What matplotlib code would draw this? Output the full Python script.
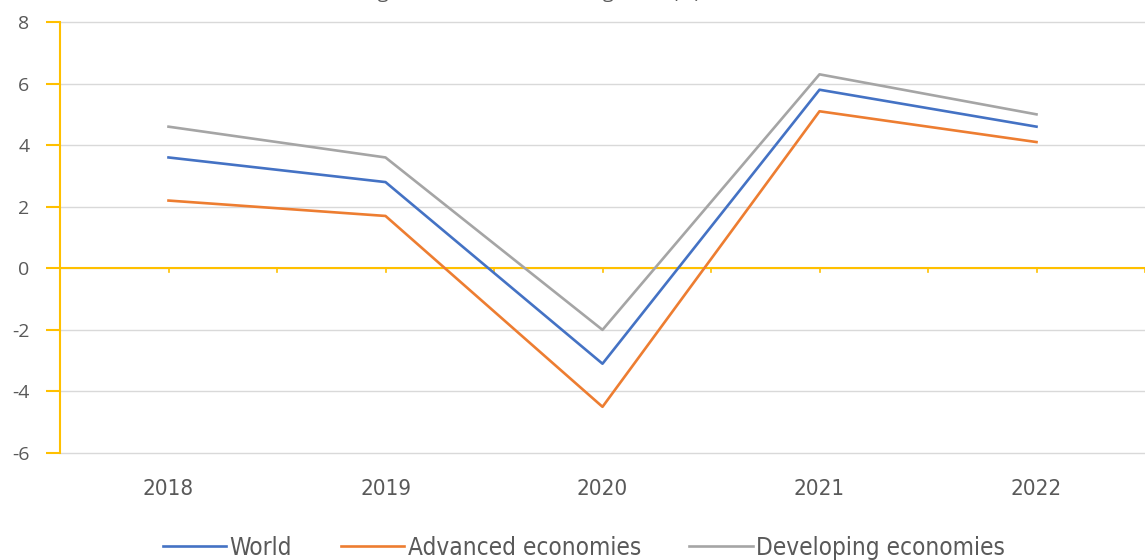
import matplotlib.pyplot as plt
from matplotlib.ticker import MultipleLocator
from matplotlib import font_manager

plt.rcParams["axes.unicode_minus"] = False

years = ["2018", "2019", "2020", "2021", "2022"]
world = [3.6, 2.8, -3.1, 5.8, 4.6]
advanced = [2.2, 1.7, -4.5, 5.1, 4.1]
developing = [4.6, 3.6, -2.0, 6.3, 5.0]

yellow = "#FFC000"
txt = "#595959"

narrow = font_manager.FontProperties(family="DejaVu Sans", stretch="condensed")

fig = plt.figure(figsize=(11.45, 5.6), dpi=100)
ax = fig.add_axes([60 / 1145, 1 - 453 / 560, 1 - 60 / 1145, (453 - 22) / 560])

x = range(len(years))
ax.plot(x, world, color="#4472C4", lw=1.9, label="World")
ax.plot(x, advanced, color="#ED7D31", lw=1.9, label="Advanced economies")
ax.plot(x, developing, color="#A5A5A5", lw=1.9, label="Developing economies")

ax.set_xlim(-0.5, 4.5)
ax.set_ylim(-6, 8)
ax.yaxis.set_major_locator(MultipleLocator(2))
ax.grid(axis="y", color="#D9D9D9", lw=1)
ax.set_axisbelow(True)
for gl in ax.get_ygridlines():
    gl.set_clip_on(False)

for s in ["top", "right", "bottom"]:
    ax.spines[s].set_visible(False)
ax.spines["left"].set_color(yellow)
ax.spines["left"].set_linewidth(1.5)
ax.axhline(0, color=yellow, lw=1.5, zorder=1.5)

# small ticks on the zero line
for i in range(len(years) * 2 + 1):
    xi = -0.5 + i * 0.5
    ax.plot([xi, xi], [0, -0.13], color=yellow, lw=1.2, zorder=1.5)

ax.tick_params(axis="y", colors=yellow, length=10, width=1.5, labelcolor=txt, labelsize=14, pad=12)
ax.tick_params(axis="x", length=0, labelcolor=txt, pad=19)
ax.set_xticks(list(x))
ax.set_xticklabels(years)
for lab in ax.get_yticklabels():
    lab.set_family("Open Sans")
for lab in ax.get_xticklabels():
    lab.set_fontproperties(narrow)
    lab.set_fontsize(16)

fig.text(0.464, 1 + 2 / 560, "Figure 1: Global economic growth (%)", ha="center", va="baseline",
         fontsize=14, color=txt, family="Open Sans")

lp = narrow.copy()
lp.set_size(17.5)
leg = fig.legend(loc="center", bbox_to_anchor=(0.51, 1 - 548 / 560), ncol=3, frameon=False,
                 prop=lp, handlelength=2.6, handletextpad=0.15, columnspacing=2.0)
for t in leg.get_texts():
    t.set_color(txt)

fig.savefig("out.png", dpi=100)
